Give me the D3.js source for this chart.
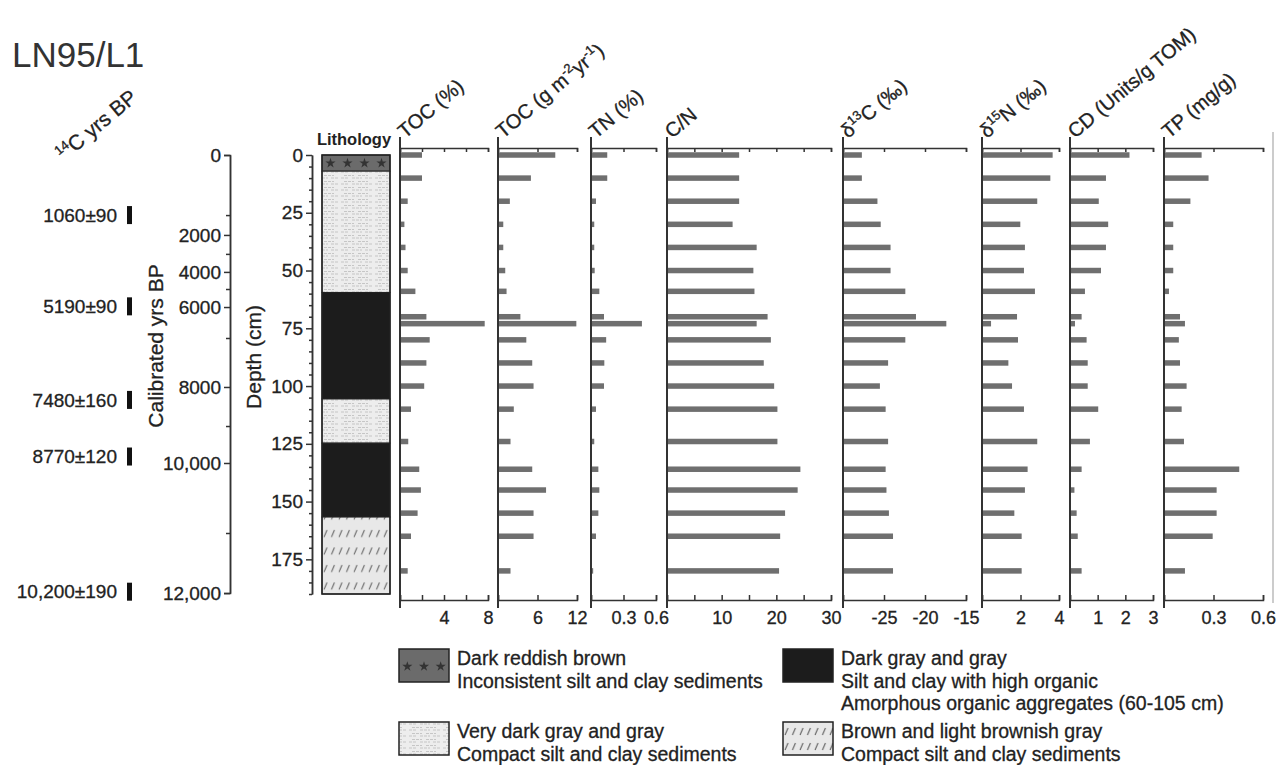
<!DOCTYPE html>
<html>
<head>
<meta charset="utf-8">
<script src="https://cdn.jsdelivr.net/npm/d3@7"></script>
<style>
  body { margin: 0; background: #fff; }
  svg text { font-family: "Liberation Sans", Arial, sans-serif; fill: #222; stroke: #222; stroke-width: 0.3px; }
</style>
</head>
<body>
<script>
const depths  = [0, 10, 20, 30, 40, 50, 59, 70, 73, 80, 90, 100, 110, 124, 136, 145, 155, 165, 180];
const tocPct  = [2.0, 2.0, 0.7, 0.4, 0.5, 0.7, 1.4, 2.4, 7.7, 2.7, 2.4, 2.2, 1.0, 0.75, 1.75, 1.9, 1.6, 1.0, 0.7];
const tocFlux = [8.7, 5.0, 1.8, 0.8, 0.8, 1.1, 1.3, 3.4, 11.9, 4.3, 5.2, 5.4, 2.4, 1.9, 5.2, 7.3, 5.4, 5.4, 1.9];
const tn      = [0.15, 0.15, 0.046, 0.03, 0.03, 0.034, 0.077, 0.12, 0.47, 0.14, 0.123, 0.12, 0.046, 0.03, 0.068, 0.077, 0.068, 0.046, 0.02];
const cn      = [13.2, 13.2, 13.2, 12.0, 16.4, 15.8, 16.0, 18.4, 16.4, 19.0, 17.7, 19.6, 20.2, 20.2, 24.4, 23.9, 21.6, 20.7, 20.5];
const d13c    = [-27.7, -27.7, -25.8, -25.4, -24.2, -24.2, -22.4, -21.1, -17.4, -22.4, -24.5, -25.5, -24.8, -24.5, -24.8, -24.7, -24.4, -23.9, -23.9];
const d15n    = [3.67, 3.55, 2.87, 1.99, 2.23, 2.18, 2.75, 1.82, 0.47, 1.87, 1.37, 1.56, 2.18, 2.87, 2.37, 2.23, 1.68, 2.06, 2.06];
const cdUnits = [2.15, 1.3, 1.04, 1.38, 1.3, 1.12, 0.54, 0.42, 0.18, 0.6, 0.64, 0.64, 1.02, 0.72, 0.42, 0.16, 0.24, 0.28, 0.42];
const tp      = [0.228, 0.27, 0.16, 0.056, 0.056, 0.056, 0.03, 0.097, 0.127, 0.09, 0.097, 0.137, 0.107, 0.121, 0.456, 0.319, 0.319, 0.295, 0.127];

// axis ticks and tick labels per panel
const tocPctTicks = [0, 2, 4, 6, 8],             tocPctLabels = [4, 8];
const tocFluxTicks = [0, 6, 12],                 tocFluxLabels = [6, 12];
const tnTicks = [0, 0.3, 0.6],                   tnLabels = [0.3, 0.6];
const cnTicks = [0, 5, 10, 15, 20, 25, 30],      cnLabels = [10, 20, 30];
const d13cTicks = [-30, -25, -20, -15],          d13cLabels = [-25, -20, -15];
const d15nTicks = [0, 2, 4],                     d15nLabels = [2, 4];
const cdTicks = [0, 1, 2, 3],                    cdLabels = [1, 2, 3];
const tpTicks = [0, 0.3, 0.6],                   tpLabels = [0.3, 0.6];

// age-depth model (calibrated yrs BP vs depth cm)
const ageTicks  = [0, 1000, 2000, 3000, 4000, 5000, 6000, 7000, 8000, 9000, 10000, 11000, 12000];
const ageDepths = [0, 26, 34.6, 42.8, 50.6, 58, 65.8, 79.2, 100.4, 117.3, 133.3, 163.6, 189.6];
const ageMajor  = [0, 2000, 4000, 6000, 8000, 10000, 12000];
const ageMajorLabels = ["0", "2000", "4000", "6000", "8000", "10,000", "12,000"];

// radiocarbon dates
const c14Labels = ["1060±90", "5190±90", "7480±160", "8770±120", "10,200±190"];
const c14Depths = [26, 65.5, 106, 130.5, 189];

// lithology units
const lithTop    = [0, 7, 59.5, 105.6, 124.7, 156.7];
const lithBottom = [7, 59.5, 105.6, 124.7, 156.7, 190];
const lithType   = ["red", "light", "dark", "light", "dark", "hatch"];

const depthMajor = [0, 25, 50, 75, 100, 125, 150, 175];

const legendTypes = ["red", "dark", "light", "hatch"];
const legendLines = [
  ["Dark reddish brown", "Inconsistent silt and clay sediments"],
  ["Dark gray and gray", "Silt and clay with high organic", "Amorphous organic aggregates (60-105 cm)"],
  ["Very dark gray and gray", "Compact silt and clay sediments"],
  ["Brown and light brownish gray", "Compact silt and clay sediments"]
];

const width = 1276, height = 765;
const axisColor = '#333';
const barColor = '#6f6f6f';
const font = '"Liberation Sans", Arial, sans-serif';

const svg = d3.select('body').append('svg')
  .attr('width', width)
  .attr('height', height);

// ---------- patterns ----------
const defs = svg.append('defs');

const pLight = defs.append('pattern').attr('id', 'p-light')
  .attr('patternUnits', 'userSpaceOnUse').attr('width', 34).attr('height', 6);
pLight.append('rect').attr('width', 34).attr('height', 6).attr('fill', '#ededed');
[[1, 3, 9], [12, 3, 22], [25, 3, 32], [4, 0.5, 14], [18, 0.5, 28]].forEach(([a, yy, b]) => {
  pLight.append('line').attr('x1', a).attr('x2', b).attr('y1', yy + 1).attr('y2', yy + 1)
    .attr('stroke', '#b5b5b5').attr('stroke-width', 0.7).attr('stroke-dasharray', '3,1');
});

const pHatch = defs.append('pattern').attr('id', 'p-hatch')
  .attr('patternUnits', 'userSpaceOnUse').attr('width', 7.5).attr('height', 17.5)
  .attr('x', 322).attr('y', 0);
pHatch.append('rect').attr('width', 7.5).attr('height', 17.5).attr('fill', '#e8e8e8');
pHatch.append('line').attr('x1', 2).attr('y1', 12).attr('x2', 5).attr('y2', 5)
  .attr('stroke', '#555').attr('stroke-width', 1);

const pHatchLeg = defs.append('pattern').attr('id', 'p-hatch-leg')
  .attr('patternUnits', 'userSpaceOnUse').attr('width', 7.5).attr('height', 15)
  .attr('x', 783).attr('y', 724);
pHatchLeg.append('rect').attr('width', 7.5).attr('height', 15).attr('fill', '#e8e8e8');
pHatchLeg.append('line').attr('x1', 2).attr('y1', 11).attr('x2', 5).attr('y2', 4)
  .attr('stroke', '#555').attr('stroke-width', 1);

const fillFor = t => ({ red: '#6b6b6b', light: 'url(#p-light)', dark: '#1c1c1c', hatch: 'url(#p-hatch)' })[t];

const star = d3.symbol().type(d3.symbolStar).size(32);

// ---------- title ----------
svg.append('text').attr('x', 12).attr('y', 67)
  .attr('font-size', 35).style('fill', '#333').style('stroke', 'none').text('LN95/L1');

// ---------- scales ----------
const y = d3.scaleLinear().domain([0, 190]).range([155, 594]);
const ageScale = d3.scaleLinear().domain(ageTicks).range(ageDepths.map(d => y(d)));

const styleAxis = g => {
  g.attr('font-family', font).attr('color', axisColor);
  g.selectAll('path, line').attr('stroke', axisColor).attr('stroke-width', 1.5);
  g.selectAll('text').style('fill', '#222');
};

// ---------- 14C dates ----------
svg.append('text')
  .attr('transform', 'translate(64,162) rotate(-40)')
  .attr('font-size', 21)
  .call(t => {
    t.append('tspan').attr('font-size', 13).attr('dy', -8).text('14');
    t.append('tspan').attr('dy', 8).text('C yrs BP');
  });

const c14 = svg.append('g');
c14.selectAll('text').data(c14Labels).join('text')
  .attr('x', 117).attr('y', (d, i) => y(c14Depths[i]))
  .attr('dy', '0.35em').attr('text-anchor', 'end')
  .attr('font-size', 19).text(d => d);
c14.selectAll('rect').data(c14Depths).join('rect')
  .attr('x', 127).attr('width', 5)
  .attr('y', d => y(d) - 9).attr('height', 18)
  .attr('fill', '#111');

// ---------- calibrated age axis ----------
svg.append('g').attr('transform', 'translate(230,0)')
  .call(d3.axisLeft(ageScale).tickValues(ageTicks.filter(a => !ageMajor.includes(a)))
    .tickSize(4).tickSizeOuter(0).tickFormat(''))
  .call(styleAxis);
svg.append('g').attr('transform', 'translate(230,0)')
  .call(d3.axisLeft(ageScale).tickValues(ageMajor).tickSize(6).tickSizeOuter(6).tickPadding(3)
    .tickFormat((d, i) => ageMajorLabels[i]))
  .call(styleAxis)
  .attr('font-size', 19);

svg.append('text')
  .attr('transform', 'translate(163,346) rotate(-90)')
  .attr('text-anchor', 'middle').attr('font-size', 21)
  .text('Calibrated yrs BP');

// ---------- depth axis ----------
svg.append('g').attr('transform', 'translate(312,0)')
  .call(d3.axisLeft(y).tickValues(d3.range(0, 191, 5).filter(d => d % 25 !== 0))
    .tickSize(3).tickSizeOuter(0).tickFormat(''))
  .call(styleAxis);
svg.append('g').attr('transform', 'translate(312,0)')
  .call(d3.axisLeft(y).tickValues(depthMajor).tickSize(6).tickSizeOuter(0).tickPadding(3))
  .call(styleAxis)
  .attr('font-size', 19);

svg.append('text')
  .attr('transform', 'translate(261,357) rotate(-90)')
  .attr('text-anchor', 'middle').attr('font-size', 21)
  .text('Depth (cm)');

// ---------- lithology column ----------
const colX0 = 322, colX1 = 390;
svg.append('text').attr('x', (colX0 + colX1) / 2 - 2).attr('y', 145)
  .attr('text-anchor', 'middle').attr('font-size', 16.5).attr('font-weight', 'bold')
  .style('stroke', 'none')
  .text('Lithology');

const lith = svg.append('g');
lith.selectAll('rect').data(lithType).join('rect')
  .attr('x', colX0).attr('width', colX1 - colX0)
  .attr('y', (d, i) => y(lithTop[i]))
  .attr('height', (d, i) => y(lithBottom[i]) - y(lithTop[i]))
  .attr('fill', d => fillFor(d))
  .attr('stroke', '#222').attr('stroke-width', 1);
lithType.forEach((t, i) => {
  if (t !== 'red') return;
  const cy = (y(lithTop[i]) + y(lithBottom[i])) / 2;
  d3.range(4).forEach(k => {
    lith.append('path').attr('d', star)
      .attr('transform', `translate(${colX0 + (colX1 - colX0) * (k + 0.5) / 4},${cy})`)
      .attr('fill', '#333');
  });
});
lith.append('rect').attr('x', colX0).attr('y', y(0))
  .attr('width', colX1 - colX0).attr('height', y(190) - y(0))
  .attr('fill', 'none').attr('stroke', '#222').attr('stroke-width', 1.5);

// ---------- geochemistry panels ----------
const panels = [
  { values: tocPct, domain: [0, 8], range: [400, 488], ticks: tocPctTicks, labels: tocPctLabels,
    header: [["TOC (%)"]] },
  { values: tocFlux, domain: [0, 12], range: [498, 577], ticks: tocFluxTicks, labels: tocFluxLabels,
    header: [["TOC (g m"], ["-2", "sup"], ["yr"], ["-1", "sup"], [")"]] },
  { values: tn, domain: [0, 0.6], range: [591, 656], ticks: tnTicks, labels: tnLabels,
    header: [["TN (%)"]] },
  { values: cn, domain: [0, 30], range: [667, 831], ticks: cnTicks, labels: cnLabels,
    header: [["C/N"]] },
  { values: d13c, domain: [-30, -15], range: [843, 966], ticks: d13cTicks, labels: d13cLabels,
    header: [["δ"], ["13", "sup"], ["C (‰)"]] },
  { values: d15n, domain: [0, 4], range: [982, 1059], ticks: d15nTicks, labels: d15nLabels,
    header: [["δ"], ["15", "sup"], ["N (‰)"]] },
  { values: cdUnits, domain: [0, 3], range: [1070, 1153], ticks: cdTicks, labels: cdLabels,
    header: [["CD (Units/g TOM)"]] },
  { values: tp, domain: [0, 0.6], range: [1164, 1263], ticks: tpTicks, labels: tpLabels,
    header: [["TP (mg/g)"]] }
];

const topY = 148, botY = 600;
const barH = 5.5;

panels.forEach(p => {
  const x = d3.scaleLinear().domain(p.domain).range(p.range);
  const g = svg.append('g');

  // bars
  g.selectAll('rect').data(p.values).join('rect')
    .attr('x', x(p.domain[0]))
    .attr('y', (d, i) => y(depths[i]) - barH / 2)
    .attr('width', d => x(d) - x(p.domain[0]))
    .attr('height', barH)
    .attr('fill', barColor);

  // top axis, ticks pointing down
  g.append('g').attr('transform', `translate(0,${topY})`)
    .call(d3.axisBottom(x).tickValues(p.ticks).tickSize(4).tickSizeOuter(4).tickFormat(''))
    .call(styleAxis);

  // bottom axis, ticks pointing up, labels below
  g.append('g').attr('transform', `translate(0,${botY})`)
    .call(d3.axisBottom(x).tickValues(p.ticks).tickSize(-5).tickSizeOuter(-5).tickPadding(11)
      .tickFormat(d => p.labels.includes(d) ? String(d) : ''))
    .call(styleAxis)
    .attr('font-size', 18);

  // vertical axis line
  g.append('line')
    .attr('x1', p.range[0]).attr('x2', p.range[0])
    .attr('y1', 137).attr('y2', 608)
    .attr('stroke', axisColor).attr('stroke-width', 2);

  // rotated header
  const t = svg.append('text')
    .attr('transform', `translate(${p.range[0] + 5},139) rotate(-40)`)
    .attr('font-size', 20);
  let raised = false;
  p.header.forEach(([txt, kind]) => {
    const ts = t.append('tspan').text(txt);
    if (kind === 'sup') {
      ts.attr('font-size', 13).attr('dy', -8);
      raised = true;
    } else if (raised) {
      ts.attr('dy', 8);
      raised = false;
    }
  });
});

// thin frame line at right edge
svg.append('line').attr('x1', 1273).attr('x2', 1273).attr('y1', 132).attr('y2', 603)
  .attr('stroke', '#999').attr('stroke-width', 1);

// ---------- legend ----------
const legX = [399, 783, 399, 783];
const legY = [649, 649, 722, 722];
const legend = svg.append('g');
legendTypes.forEach((t, i) => {
  const bx = legX[i], by = legY[i];
  const bh = 33;
  const gi = legend.append('g');
  gi.append('rect').attr('x', bx).attr('y', by).attr('width', 50).attr('height', bh)
    .attr('fill', t === 'hatch' ? 'url(#p-hatch-leg)' : fillFor(t))
    .attr('stroke', '#222').attr('stroke-width', 1.5);
  if (t === 'red') {
    d3.range(3).forEach(k => {
      gi.append('path').attr('d', star)
        .attr('transform', `translate(${bx + 50 * (k + 0.5) / 3},${by + bh / 2 + 1})`)
        .attr('fill', '#333');
    });
  }
  gi.selectAll('text').data(legendLines[i]).join('text')
    .attr('x', bx + 58)
    .attr('y', (d, j) => by + 16 + j * 22.5)
    .attr('font-size', 19.5)
    .text(d => d);
});
</script>
</body>
</html>
